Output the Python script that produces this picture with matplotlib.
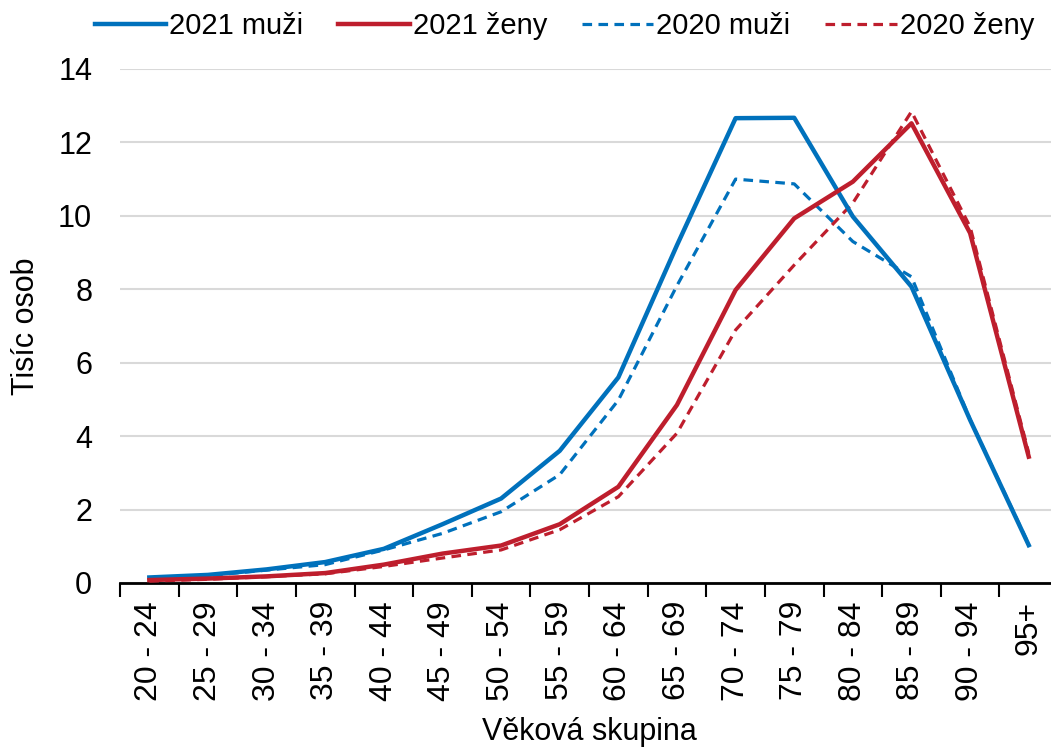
import matplotlib
matplotlib.use("Agg")
import matplotlib.pyplot as plt

plt.rcParams["font.family"] = ["Liberation Sans", "DejaVu Sans"]

# ===== data =====
age_groups = ["20 - 24", "25 - 29", "30 - 34", "35 - 39", "40 - 44", "45 - 49",
              "50 - 54", "55 - 59", "60 - 64", "65 - 69", "70 - 74", "75 - 79",
              "80 - 84", "85 - 89", "90 - 94", "95+"]
men_2021 = [0.15, 0.22, 0.37, 0.57, 0.93, 1.6, 2.3, 3.6, 5.6, 9.2, 12.66, 12.67,
            9.98, 8.07, 4.44, 1.03]
women_2021 = [0.08, 0.12, 0.18, 0.27, 0.5, 0.8, 1.02, 1.6, 2.62, 4.85, 7.98, 9.93,
              10.93, 12.52, 9.53, 3.44]
men_2020 = [0.12, 0.2, 0.35, 0.5, 0.9, 1.35, 1.94, 2.95, 4.98, 8.1, 11.0, 10.87,
            9.3, 8.34, 4.45, 1.05]
women_2020 = [0.05, 0.1, 0.17, 0.25, 0.45, 0.68, 0.9, 1.45, 2.35, 4.08, 6.89, 8.66,
              10.35, 12.84, 9.7, 3.54]

BLUE = "#0071BC"
RED = "#BE1E2D"

fig = plt.figure(figsize=(10.51, 7.53), dpi=100)
ax = fig.add_axes([0.1142, 0.2258, 0.8925, 0.6826])

x = range(len(age_groups))
l1, = ax.plot(x, men_2021, color=BLUE, lw=3.2, label="2021 muži", zorder=4)
l2, = ax.plot(x, women_2021, color=RED, lw=3.2, label="2021 ženy", zorder=4)
l3, = ax.plot(x, men_2020, color=BLUE, lw=2.3, ls=(0, (3, 2)), label="2020 muži", zorder=3)
l4, = ax.plot(x, women_2020, color=RED, lw=2.3, ls=(0, (3, 2)), label="2020 ženy", zorder=3)

ax.set_xlim(-0.5, len(age_groups) - 0.5)
ax.set_ylim(0, 14)
ax.set_yticks(range(0, 15, 2))
ax.yaxis.grid(True, color="#d9d9d9", lw=1.5)
ax.set_axisbelow(True)

ax.set_xticks(list(x))
ax.set_xticklabels(age_groups, rotation=90, fontsize=23)
ax.set_xticks([i - 0.5 for i in range(len(age_groups) + 1)], minor=True)
ax.tick_params(axis="x", which="major", length=0, pad=13)
ax.tick_params(axis="x", which="minor", length=10, width=1.5, color="black")
ax.tick_params(axis="y", length=0, labelsize=22, pad=20)

for s in ["left", "right", "top"]:
    ax.spines[s].set_visible(False)
ax.spines["bottom"].set_linewidth(2)
ax.spines["bottom"].set_color("black")

ax.set_ylabel("Tisíc osob", fontsize=22, labelpad=12)
ax.set_xlabel("Věková skupina", fontsize=22, labelpad=12)

fig.legend(handles=[l1, l2, l3, l4], loc="center", bbox_to_anchor=(0.537, 0.965),
           ncol=4, frameon=False, fontsize=21, handlelength=2.45,
           handletextpad=0.1, columnspacing=1.2)

fig.savefig("out.png", dpi=100)
